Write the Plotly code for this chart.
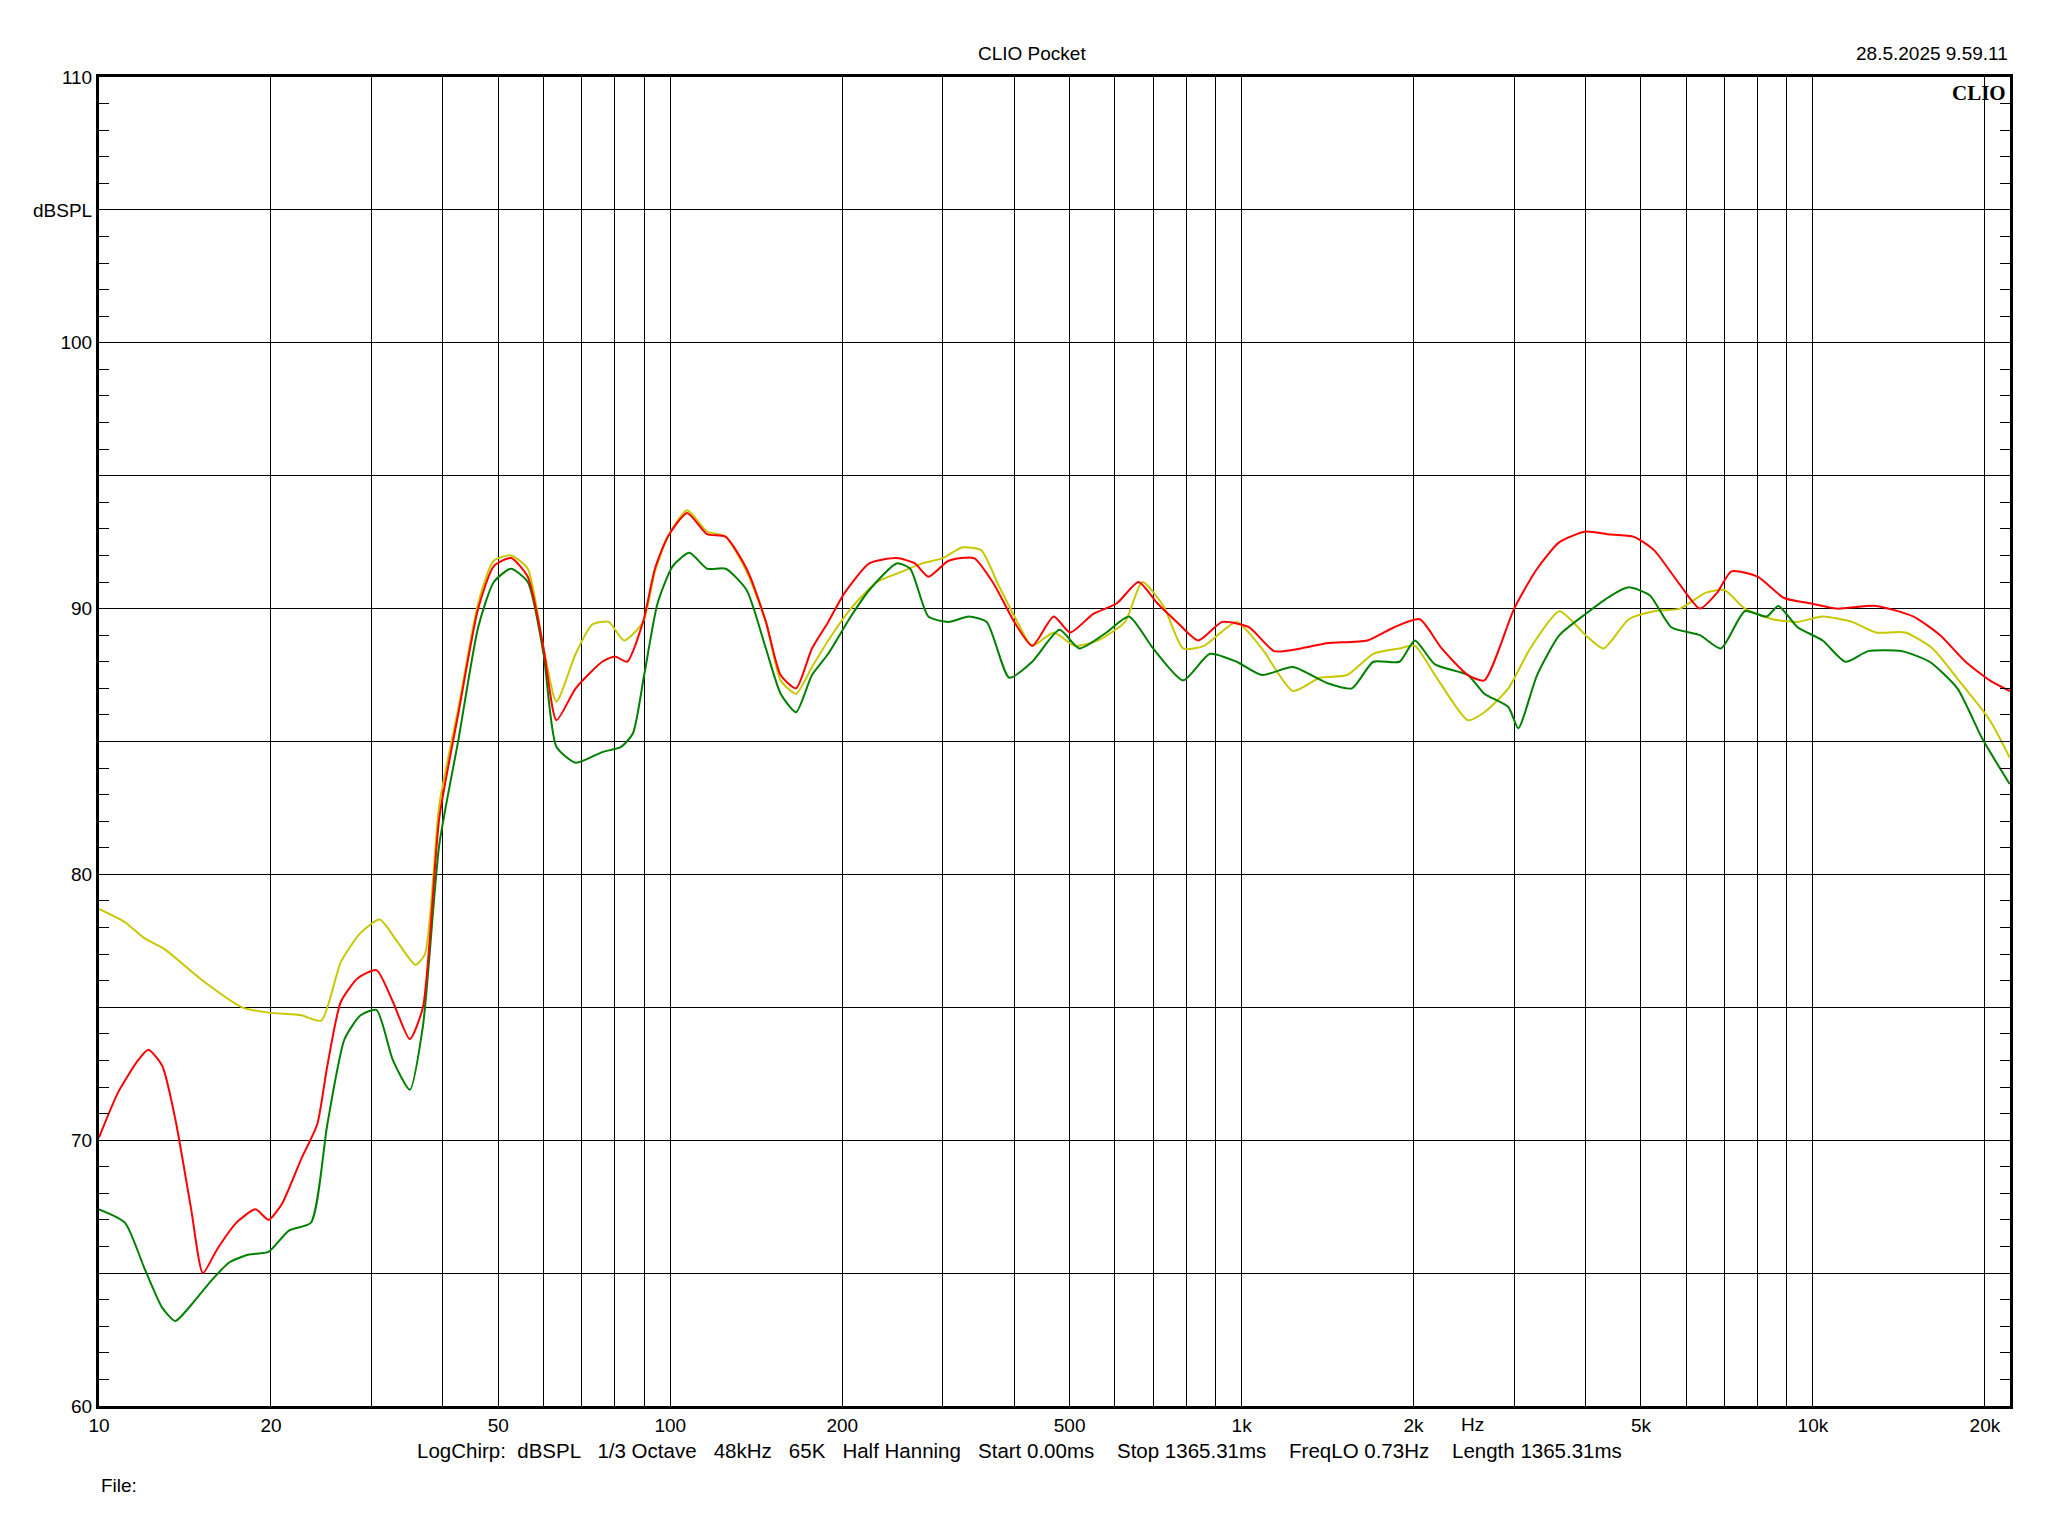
import plotly.graph_objects as go

red_f = [10,10.8,11.7,12.2,12.9,13.6,14.5,15.2,16.1,17.4,18.8,19.8,20.9,22.6,24.1,25.1,26.5,28.4,30.6,32.7,35.0,36.9,39.4,42.6,46.1,49.1,52.6,56.3,60,63.2,68.3,76,80,84,89.6,94,99,107,116,125,136,147,156,166,177,189,202,223,249,268,283,307,340,369,400,430,469,501,550,605,660,712,770,840,925,1030,1140,1270,1410,1660,1850,2050,2240,2490,2660,3000,3290,3600,4000,4370,4860,5270,5850,6340,6800,7200,8000,8900,9900,11000,12900,15000,16700,18500,20400,22100]
red_db = [70.1,71.8,73.0,73.4,72.8,70.8,67.4,65.0,65.9,66.9,67.4,67.0,67.6,69.3,70.6,72.8,75.2,76.1,76.4,75.2,73.8,75.0,82.1,86.1,90.0,91.6,91.9,91.2,88.5,85.8,87.0,88.0,88.2,88.0,89.5,91.5,92.7,93.6,92.8,92.7,91.5,89.5,87.5,87.0,88.5,89.5,90.6,91.7,91.9,91.7,91.2,91.8,91.9,90.9,89.5,88.6,89.7,89.1,89.8,90.2,91.0,90.2,89.5,88.8,89.5,89.3,88.4,88.5,88.7,88.8,89.3,89.6,88.5,87.5,87.3,90.0,91.5,92.5,92.9,92.8,92.7,92.2,90.9,90.0,90.6,91.4,91.2,90.4,90.2,90.0,90.1,89.7,89.0,88.0,87.3,86.9]

green_f = [10,11.1,12.0,12.9,13.6,14.5,15.7,16.9,18.3,19.8,21.5,23.5,25.1,26.9,28.7,30.6,32.7,35.0,36.9,39.4,42.6,46.1,49.1,52.6,56.3,60,63.2,68.3,76,82,86,90,95,101,108,116,125,136,147,156,166,177,189,207,223,249,263,283,307,333,358,392,430,480,520,580,635,700,790,880,980,1085,1230,1410,1560,1700,1890,2010,2180,2490,2660,2930,3050,3290,3600,4000,4440,4760,5180,5650,6340,6900,7600,8300,8700,9400,10400,11400,12500,14300,16000,17900,19800,22100]
green_db = [67.4,66.9,65.2,63.7,63.2,63.8,64.7,65.4,65.7,65.8,66.6,66.9,70.6,73.8,74.7,74.9,73.0,71.9,74.3,81.1,85.1,89.3,91.0,91.5,91.0,88.3,84.8,84.2,84.6,84.8,85.3,87.5,90.2,91.6,92.1,91.5,91.5,90.7,88.5,86.8,86.1,87.5,88.3,89.7,90.7,91.7,91.5,89.7,89.5,89.7,89.5,87.4,88.0,89.2,88.5,89.1,89.7,88.5,87.3,88.3,88.0,87.5,87.8,87.2,87.0,88.0,88.0,88.8,87.9,87.5,86.8,86.3,85.5,87.5,89.0,89.8,90.5,90.8,90.5,89.3,89.0,88.5,89.9,89.7,90.1,89.3,88.8,88.0,88.4,88.4,88.0,87.0,85.1,83.4]

yellow_f = [10,11.1,12.0,13.0,15.2,17.8,19.8,22.6,24.5,26.5,28.7,31.0,33.2,35.8,37.2,39.4,42.6,46.1,49.1,52.6,56.3,60,63.2,68.3,73,78,83,89.6,94,99,107,116,125,136,147,156,166,177,189,207,230,255,276,300,324,350,375,405,430,469,510,560,625,670,730,790,860,980,1085,1230,1370,1530,1700,1890,2010,2180,2490,2660,2930,3200,3600,4000,4300,4760,5270,5850,6500,7000,7600,8500,9400,10400,11700,12900,14500,16200,18000,20400,22100]
yellow_db = [78.7,78.2,77.6,77.2,76.0,75.0,74.8,74.7,74.5,76.7,77.8,78.3,77.5,76.6,77.0,82.6,86.3,90.2,91.8,92.0,91.5,88.5,86.5,88.3,89.4,89.5,88.8,89.5,91.4,92.7,93.7,92.9,92.7,91.4,89.5,87.3,86.8,87.8,88.8,90.0,91.0,91.4,91.7,91.9,92.3,92.2,90.9,89.5,88.6,89.1,88.6,88.8,89.5,91.0,90.1,88.5,88.6,89.5,88.5,86.9,87.4,87.5,88.3,88.5,88.6,87.5,85.8,86.1,87.0,88.5,89.9,89.0,88.5,89.6,89.9,90.0,90.6,90.7,90.0,89.6,89.5,89.7,89.5,89.1,89.1,88.5,87.3,85.8,84.4]

grid_x = [m * d for d in (10, 100, 1000, 10000) for m in range(1, 10)] + [20000]
x_labels = {10: "10", 20: "20", 50: "50", 100: "100", 200: "200", 500: "500",
            1000: "1k", 2000: "2k", 5000: "5k", 10000: "10k", 20000: "20k"}
y_grid = list(range(60, 111, 5))
y_labels = {60: "60", 70: "70", 80: "80", 90: "90", 100: "100", 105: "dBSPL", 110: "110"}

fig = go.Figure()
for f, d, c in [(yellow_f, yellow_db, "#c8c800"), (green_f, green_db, "#008000"), (red_f, red_db, "#ff0000")]:
    fig.add_trace(go.Scatter(x=f, y=d, mode="lines", line=dict(color=c, width=2, shape="spline", smoothing=0.6),
                             showlegend=False))

font = dict(family="Liberation Sans, Arial", size=19, color="black")
fig.update_layout(
    width=2048, height=1536, paper_bgcolor="white", plot_bgcolor="white",
    margin=dict(l=91, r=46, t=69, b=138), font=font,
    xaxis=dict(type="log", range=[1, 4.345], tickvals=grid_x,
               ticktext=[x_labels.get(v, "") for v in grid_x],
               showgrid=True, gridcolor="black", gridwidth=1,
               showline=True, linecolor="black", linewidth=3, mirror=True,
               ticks="", zeroline=False),
    yaxis=dict(range=[60, 110], tickvals=y_grid, ticktext=[y_labels.get(v, "") for v in y_grid],
               showgrid=True, gridcolor="black", gridwidth=1,
               showline=True, linecolor="black", linewidth=3, mirror="ticks",
               ticks="inside", ticklen=10, tickcolor="black",
               minor=dict(dtick=1, ticks="inside", ticklen=10, tickcolor="black", showgrid=False),
               zeroline=False),
)
fig.add_annotation(x=(1131 - 70) / 1462, y=0, xref="paper", yref="paper", text="Hz", showarrow=False,
                   yanchor="top", yshift=-6, font=font)
fig.add_annotation(x=0.488, y=1, xref="paper", yref="paper", text="CLIO Pocket", showarrow=False,
                   yshift=36, font=font)
fig.add_annotation(x=1, y=1, xref="paper", yref="paper", text="28.5.2025 9.59.11", showarrow=False,
                   xanchor="right", yshift=36, font=font)
fig.add_annotation(x=1, y=1, xref="paper", yref="paper", text="<b>CLIO</b>", showarrow=False,
                   xanchor="right", yanchor="top", xshift=-2, yshift=-2,
                   font=dict(family="Liberation Serif", size=21, color="black"))
fig.add_annotation(x=0.4815, y=0, xref="paper", yref="paper",
                   text="LogChirp:  dBSPL   1/3 Octave   48kHz   65K   Half Hanning   Start 0.00ms    Stop 1365.31ms    FreqLO 0.73Hz    Length 1365.31ms",
                   showarrow=False, yshift=-58, font=dict(family="Liberation Sans, Arial", size=20.5, color="black"))
fig.add_annotation(x=0, y=0, xref="paper", yref="paper", text="File:", showarrow=False,
                   xanchor="left", yshift=-92, font=font)
fig.write_html("out.html")
